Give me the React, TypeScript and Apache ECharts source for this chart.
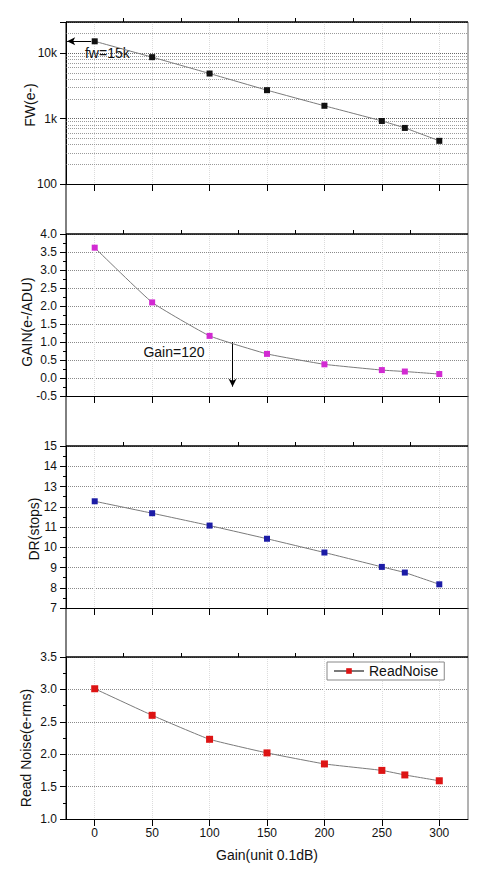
import React, { useEffect, useRef } from "react";
import * as echarts from "echarts";

const gains = [0, 50, 100, 150, 200, 250, 270, 300];
const fullWell = [15200, 8700, 4890, 2720, 1570, 920, 720, 457];
const gainEADU = [3.62, 2.1, 1.17, 0.67, 0.38, 0.22, 0.18, 0.11];
const dynamicRange = [12.27, 11.68, 11.07, 10.42, 9.74, 9.03, 8.75, 8.17];
const readNoise = [3.01, 2.6, 2.23, 2.02, 1.85, 1.75, 1.68, 1.59];

const xMajorTicks = [0, 50, 100, 150, 200, 250, 300];
const xMinorTicks = [25, 75, 125, 175, 225, 275];
const fwMinorGrid = [200, 300, 400, 500, 600, 700, 800, 900, 2000, 3000, 4000, 5000, 6000, 7000, 8000, 9000, 20000];
const fwTickLabels: Record<number, string> = { 100: "100", 1000: "1k", 10000: "10k" };

const panelNames = ["FW(e-)", "GAIN(e-/ADU)", "DR(stops)", "Read Noise(e-rms)"];
const panelMin = [100, -0.5, 7, 1.0];
const panelMax = [30000, 4.0, 15, 3.5];
const panelInterval = [0, 0.5, 1, 0.5];
const panelColors = ["#111111", "#d22ad2", "#1c1ca6", "#dd1414"];
const panelSeries = [fullWell, gainEADU, dynamicRange, readNoise];

const FONT = "Liberation Sans";
const LEFT = 66;
const RIGHT = 468;
const TOPS = [22, 234, 446, 657];
const HEIGHT = 162;
const NAME_GAPS = [29, 32, 25, 33];
const NAME_PAD = [[0, 4, 0, 0], [0, 14, 0, 0], [0, 4, 0, 0], [0, 20, 0, 0]];

export default function App() {
  const ref = useRef<HTMLDivElement>(null);
  useEffect(() => {
    document.body.style.margin = "0";
    if (!ref.current) return;
    const chart = echarts.init(ref.current, undefined, { renderer: "svg" });

    const grids = TOPS.map((t) => ({ left: LEFT, width: RIGHT - LEFT, top: t, height: HEIGHT }));

    const xAxes: any[] = [];
    TOPS.forEach((_, i) => {
      xAxes.push({
        type: "value",
        gridIndex: i,
        min: -25,
        max: 325,
        splitNumber: 7,
        axisLine: { show: true, onZero: false, lineStyle: { color: "#000", width: 1 } },
        axisTick: { show: true, inside: false, length: 7, customValues: xMajorTicks, lineStyle: { color: "#000" } },
        axisLabel: {
          show: i === 3,
          customValues: xMajorTicks,
          fontSize: 12,
          color: "#111",
          margin: 8,
          fontFamily: FONT,
        },
        splitLine: { show: true, lineStyle: { color: "#dcdcdc", type: "dotted", width: 1 } },
        name: i === 3 ? "Gain(unit 0.1dB)" : "",
        nameLocation: "middle",
        nameGap: 29,
        nameMoveOverlap: false,
        nameTextStyle: { fontSize: 14, color: "#111", fontFamily: FONT },
      });
      xAxes.push({
        type: "value",
        gridIndex: i,
        min: -25,
        max: 325,
        splitNumber: 7,
        axisLine: { show: false, onZero: false },
        axisTick: { show: true, inside: false, length: 4, customValues: xMinorTicks, lineStyle: { color: "#000" } },
        axisLabel: { show: false },
        splitLine: { show: false },
      });
    });

    const yAxes: any[] = TOPS.map((_, i) => {
      const common: any = {
        gridIndex: i,
        min: panelMin[i],
        max: panelMax[i],
        axisLine: { show: true, onZero: false, lineStyle: { color: "#000", width: 1 } },
        axisTick: { show: true, inside: false, length: 6, lineStyle: { color: "#000" } },
        splitLine: { show: true, lineStyle: { color: "#8a8a8a", type: "dotted", width: 1 } },
        name: panelNames[i],
        nameLocation: "middle",
        nameGap: NAME_GAPS[i],
        nameMoveOverlap: false,
        nameTextStyle: { fontSize: 14, color: "#111", fontFamily: FONT, padding: NAME_PAD[i] },
      };
      if (i === 0) {
        return {
          ...common,
          type: "log",
          logBase: 10,
          axisLabel: {
            fontSize: 12,
            color: "#111",
            margin: 9,
            fontFamily: FONT,
            formatter: (v: number) => fwTickLabels[Math.round(v)] ?? "",
          },
          splitLine: { show: true, lineStyle: { color: "#666", type: "dotted", width: 1 } },
        };
      }
      return {
        ...common,
        type: "value",
        interval: panelInterval[i],
        minorTick: { show: true, splitNumber: 2, length: 3, lineStyle: { color: "#000" } },
        axisLabel: {
          fontSize: 12,
          color: "#111",
          margin: 9,
          fontFamily: FONT,
          formatter: (v: number) => (i === 2 ? String(Math.round(v)) : v.toFixed(1)),
        },
      };
    });

    const series: any[] = panelSeries.map((vals, i) => {
      const s: any = {
        name: i === 3 ? "ReadNoise" : panelNames[i],
        type: "line",
        xAxisIndex: i * 2,
        yAxisIndex: i,
        data: gains.map((g, k) => [g, vals[k]]),
        symbol: "rect",
        symbolSize: i === 3 ? 7 : 6,
        smooth: 0.12,
        lineStyle: { color: "#7a7a7a", width: 1 },
        itemStyle: { color: panelColors[i] },
        z: 5,
      };
      if (i === 0) {
        s.markLine = {
          silent: true,
          animation: false,
          symbol: ["none", "none"],
          label: { show: false },
          lineStyle: { color: "#9a9a9a", type: "dotted", width: 1 },
          data: [
            ...fwMinorGrid.map((v) => ({ yAxis: v })),
            [
              { coord: [-24, fullWell[0]], symbol: "arrow", symbolSize: [6, 8], lineStyle: { color: "#000", type: "solid", width: 1 } },
              { coord: [-3, fullWell[0]], symbol: "none" },
            ],
          ],
        };
        s.markPoint = {
          silent: true,
          animation: false,
          data: [
            {
              coord: [11, 10000],
              symbol: "circle",
              symbolSize: 0,
              label: { show: true, position: "inside", formatter: "fw=15k", fontSize: 14, color: "#111", fontFamily: FONT },
            },
          ],
        };
      }
      if (i === 1) {
        s.markLine = {
          silent: true,
          animation: false,
          symbol: ["none", "none"],
          label: { show: false },
          data: [
            [
              { coord: [120, 1.0], symbol: "none", lineStyle: { color: "#000", type: "solid", width: 1 } },
              { coord: [120, -0.24], symbol: "arrow", symbolSize: [6, 8] },
            ],
          ],
        };
        s.markPoint = {
          silent: true,
          animation: false,
          data: [
            {
              coord: [69, 0.73],
              symbol: "circle",
              symbolSize: 0,
              label: { show: true, position: "inside", formatter: "Gain=120", fontSize: 14, color: "#111", fontFamily: FONT },
            },
          ],
        };
      }
      return s;
    });

    const graphic: any[] = [
      { type: "line", shape: { x1: LEFT, y1: TOPS[0], x2: LEFT, y2: TOPS[3] + HEIGHT }, style: { stroke: "#000", lineWidth: 1 }, z: 10 },
      { type: "line", shape: { x1: RIGHT, y1: TOPS[0], x2: RIGHT, y2: TOPS[3] + HEIGHT }, style: { stroke: "#666", lineWidth: 1 }, z: 10 },
      ...TOPS.map((t) => ({
        type: "line",
        shape: { x1: LEFT, y1: t, x2: RIGHT, y2: t },
        style: { stroke: "#000", lineWidth: 1.5 },
        z: 10,
      })),
    ];

    chart.setOption({
      animation: false,
      backgroundColor: "#fff",
      textStyle: { fontFamily: FONT },
      grid: grids,
      xAxis: xAxes,
      yAxis: yAxes,
      series,
      graphic,
      legend: {
        data: ["ReadNoise"],
        left: 327,
        top: 662,
        padding: [2, 6],
        itemGap: 0,
        itemWidth: 30,
        itemHeight: 7,
        borderColor: "#888",
        borderWidth: 1,
        backgroundColor: "#fff",
        textStyle: { fontSize: 14, color: "#111", fontFamily: FONT },
      },
    });
    return () => chart.dispose();
  }, []);
  return <div ref={ref} style={{ width: 498, height: 876 }} />;
}
